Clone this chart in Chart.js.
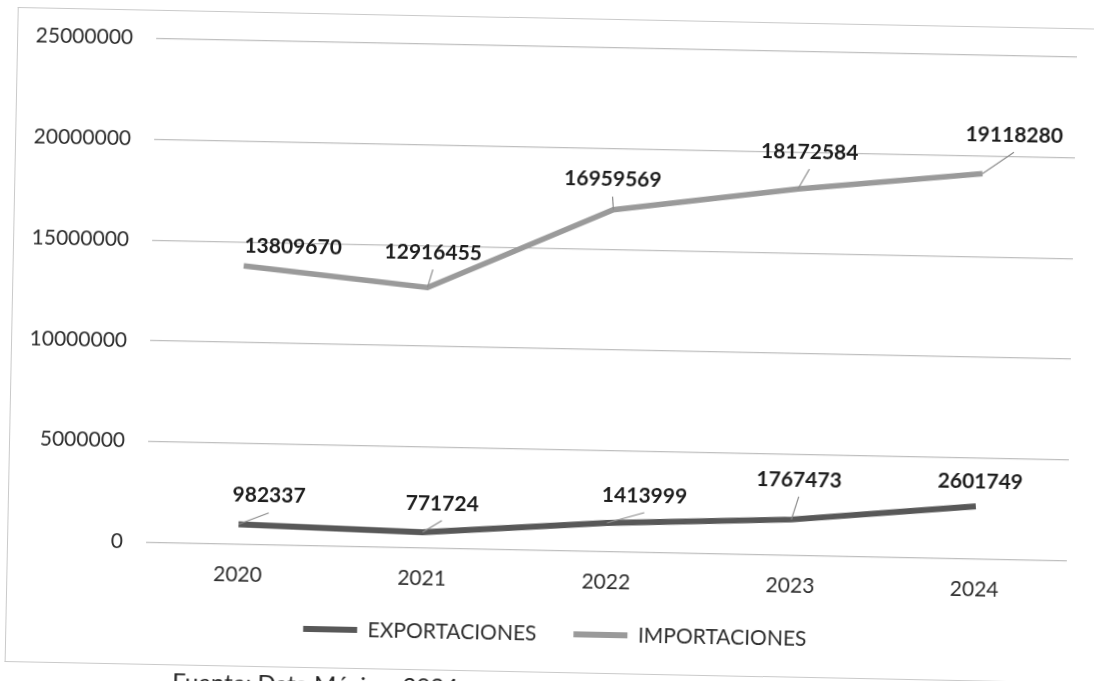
<!DOCTYPE html>
<html>
<head>
<meta charset="utf-8">
<script src="https://cdn.jsdelivr.net/npm/chart.js@4.4.1/dist/chart.umd.min.js"></script>
<style>
  html, body { margin: 0; padding: 0; background: #fff; overflow: hidden; }
  /* the scan is tilted a little clockwise */
  #page { position: relative; width: 1094px; height: 681px; transform: rotate(1.15deg); transform-origin: 612px 300px; }
  #frame { position: absolute; left: 12px; top: 19px; width: 1100px; height: 653px;
           border-left: 1.5px solid #cacaca; border-top: 1.5px solid #cacaca; border-bottom: 1.5px solid #cacaca; }
  #wrap { position: absolute; left: 0; top: 0; width: 1094px; height: 681px; }
  #fuente { position: absolute; left: 180px; top: 675px; font-family: Lato; font-size: 24px; color: #222; white-space: nowrap; }
</style>
</head>
<body>
<div id="page">
  <div id="frame"></div>
  <div id="wrap"><canvas id="myChart"></canvas></div>
  <div id="fuente">Fuente: Data México, 2024</div>
</div>
<script>
const years = ['2020', '2021', '2022', '2023', '2024'];
const exportaciones = [982337, 771724, 1413999, 1767473, 2601749];
const importaciones = [13809670, 12916455, 16959569, 18172584, 19118280];
const yTicks = [0, 5000000, 10000000, 15000000, 20000000, 25000000];

// label offset from its point in px [dx, dy, leader line?]
const expLabelPos = [[30, -29, true], [19, -29, true], [37, -28, true], [7, -40, true], [4, -25, false]];
const impLabelPos = [[49, -20, false], [5, -35, true], [-1, -30, true], [11, -37, true], [31, -39, true]];
const labelPos = [expLabelPos, impLabelPos];

const valueLabels = {
    id: 'valueLabels',
    afterDatasetsDraw(chart) {
        const ctx = chart.ctx;
        chart.data.datasets.forEach((ds, i) => {
            chart.getDatasetMeta(i).data.forEach((pt, j) => {
                const [dx, dy, leader] = labelPos[i][j];
                const lx = pt.x + dx, ly = pt.y + dy;
                ctx.save();
                if (leader) {
                    ctx.strokeStyle = '#8c8c8c';
                    ctx.lineWidth = 1.2;
                    ctx.beginPath();
                    ctx.moveTo(pt.x, pt.y);
                    ctx.lineTo(lx, ly + 17);
                    ctx.stroke();
                }
                ctx.font = 'bold 21px Lato';
                ctx.fillStyle = '#1e1e1e';
                ctx.textAlign = 'center';
                ctx.textBaseline = 'middle';
                ctx.fillText(String(ds.data[j]), lx, ly);
                ctx.restore();
            });
        });
    }
};

// move the legend where the original has it
const legendPlace = {
    id: 'legendPlace',
    afterLayout(chart) {
        const lg = chart.legend;
        const dx = 561.5 - (lg.left + lg.right) / 2;
        lg.left += dx;
        lg.right += dx;
        const top = 635 - lg.options.labels.padding - 10.5;
        lg.bottom = top + lg.height;
        lg.top = top;
    }
};

const ctx = document.getElementById('myChart').getContext('2d');
const myChart = new Chart(ctx, {
    type: 'line',
    data: {
        labels: years,
        datasets: [{
            label: 'EXPORTACIONES',
            data: exportaciones,
            borderColor: '#585858',
            backgroundColor: '#585858',
            borderWidth: 6,
            pointRadius: 0,
            tension: 0
        }, {
            label: 'IMPORTACIONES',
            data: importaciones,
            borderColor: '#9a9a9a',
            backgroundColor: '#9a9a9a',
            borderWidth: 5.5,
            pointRadius: 0,
            tension: 0
        }]
    },
    plugins: [valueLabels, legendPlace],
    options: {
        responsive: true,
        maintainAspectRatio: false,
        animation: false,
        layout: { padding: { top: 47.6, right: 22, left: 0, bottom: 0 } },
        plugins: {
            tooltip: { enabled: false },
            legend: {
                position: 'bottom',
                labels: {
                    boxWidth: 54,
                    boxHeight: 6,
                    padding: 37,
                    color: '#2e2e2e',
                    font: { family: 'Lato', size: 21 },
                    generateLabels(chart) {
                        return Chart.defaults.plugins.legend.labels.generateLabels(chart)
                            .map(l => Object.assign(l, { lineWidth: 0, fillStyle: l.strokeStyle }));
                    }
                }
            }
        },
        scales: {
            x: {
                offset: true,
                grid: { display: false },
                border: { display: false },
                ticks: { color: '#2e2e2e', font: { family: 'Lato', size: 21 }, padding: 10 },
                afterFit(s) { s.height = 681 - 551.5 - s.chart.legend.height; }
            },
            y: {
                min: yTicks[0],
                max: yTicks[yTicks.length - 1],
                grid: { color: '#bfbfbf', lineWidth: 1.3, drawTicks: false },
                border: { display: false },
                ticks: {
                    stepSize: yTicks[1] - yTicks[0],
                    padding: 23,
                    color: '#2e2e2e',
                    font: { family: 'Lato', size: 21 },
                    callback: v => String(v)
                },
                afterFit(s) { s.width = 151; }
            }
        }
    }
});
</script>
</body>
</html>
